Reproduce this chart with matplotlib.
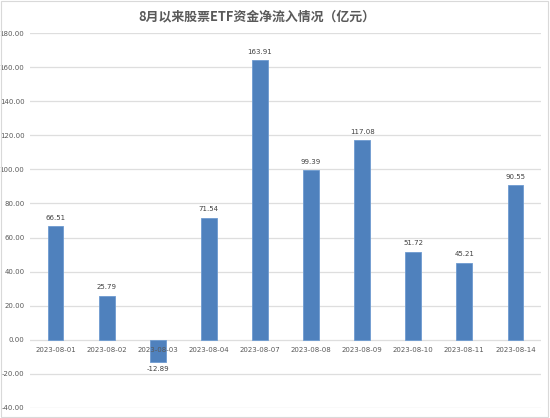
import matplotlib
matplotlib.use("Agg")
import matplotlib.pyplot as plt
from matplotlib.patches import Rectangle

dates = ["2023-08-01", "2023-08-02", "2023-08-03", "2023-08-04", "2023-08-07",
         "2023-08-08", "2023-08-09", "2023-08-10", "2023-08-11", "2023-08-14"]
values = [66.51, 25.79, -12.89, 71.54, 163.91, 99.39, 117.08, 51.72, 45.21, 90.55]
yticks = [-40, -20, 0, 20, 40, 60, 80, 100, 120, 140, 160, 180]
title = "8月以来股票ETF资金净流入情况（亿元）"

plt.rcParams['font.family'] = ['Noto Sans CJK SC', 'DejaVu Sans']
gray = "#595959"

fig = plt.figure(figsize=(5.5, 4.18), dpi=100)
ax = fig.add_axes([30/550, 10/418, 511/550, 375/418])

x = list(range(len(dates)))
ax.bar(x, values, width=0.31, color="#4F81BD", edgecolor="#6E9BD0", linewidth=0.6, zorder=3)

ax.set_xlim(-0.5, len(dates) - 0.5)
ax.set_ylim(-40, 180)
ax.set_yticks(yticks)
ax.set_yticklabels([f"{v:.2f}" for v in yticks], fontsize=5, color=gray, family='DejaVu Sans')
ax.tick_params(axis='y', length=0, pad=4)
ax.grid(axis='y', color="#DEDEDE", linewidth=0.9, zorder=0)
for s in ax.spines.values():
    s.set_visible(False)

ax.set_xticks([])
for i, d in enumerate(dates):
    ax.annotate(d, (i, 0), xytext=(0, -5), textcoords='offset points',
                ha='center', va='top', fontsize=5, color=gray, family='DejaVu Sans', zorder=4)

for i, v in enumerate(values):
    if v >= 0:
        ax.annotate(f"{v:.2f}", (i, v), xytext=(0, 4), textcoords='offset points',
                    ha='center', va='bottom', fontsize=5, color="#404040", family='DejaVu Sans')
    else:
        ax.annotate(f"{v:.2f}", (i, v), xytext=(0, -3), textcoords='offset points',
                    ha='center', va='top', fontsize=5, color="#404040", family='DejaVu Sans')

fig.text(257/550, 1 - 16/418, title, ha='center', va='center', fontsize=9.3,
         fontweight='bold', color=gray)

fig.patches.append(Rectangle((1/550, 1/418), 547/550, 416/418, transform=fig.transFigure,
                             fill=False, edgecolor="#D9D9D9", linewidth=0.8))

fig.savefig("out.png", dpi=100)
